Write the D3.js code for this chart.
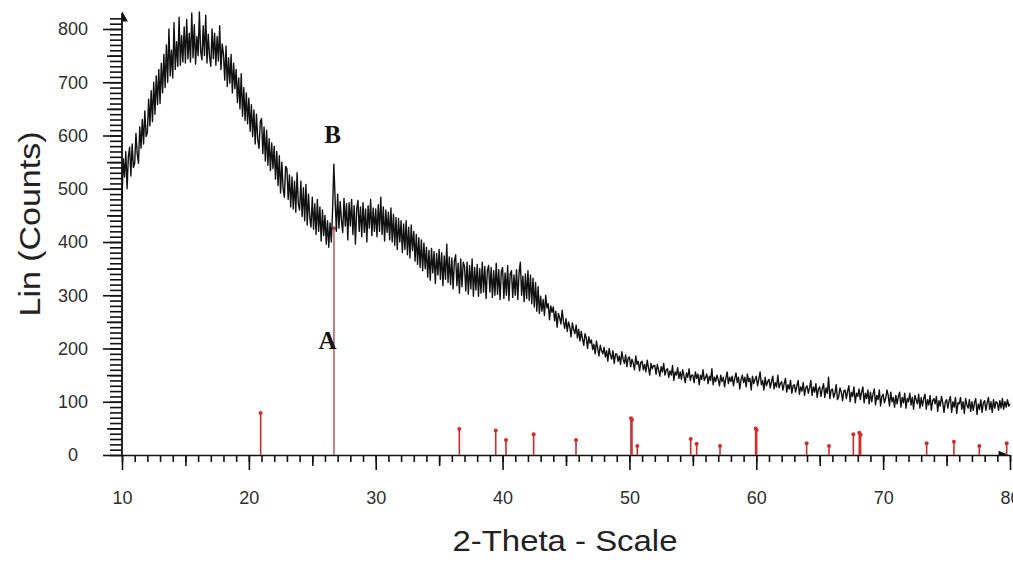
<!DOCTYPE html>
<html>
<head>
<meta charset="utf-8">
<script src="https://cdn.jsdelivr.net/npm/d3@7"></script>
<style>
  body { margin: 0; background: #fff; }
  svg { display: block; }
  .axis text { font-family: "Liberation Sans", Arial, sans-serif; font-size: 18px; fill: #2e2e2e; }
  .axis line, .axis path { stroke: #111; stroke-width: 1.6; }
</style>
</head>
<body>
<div id="viz"></div>
<script>
// scan: start angle and step (degrees 2-theta)
const scanStart = 10;
const scanStep = 0.1;

// measured counts, one row per degree (10.0 .. 10.9, 11.0 .. 11.9, ...)
const counts = [
  480, 556, 522, 570, 500, 560, 578, 524, 584, 540,
  548, 604, 566, 548, 616, 576, 630, 584, 646, 598,
  606, 668, 618, 684, 626, 700, 640, 712, 658, 724,
  660, 736, 680, 752, 690, 770, 700, 800, 712, 760,
  708, 812, 724, 776, 730, 822, 732, 788, 738, 804,
  736, 818, 744, 792, 738, 830, 746, 808, 734, 786,
  750, 832, 758, 742, 806, 750, 826, 736, 790, 748,
  730, 800, 744, 792, 732, 786, 740, 806, 724, 772,
  752, 704, 768, 692, 746, 698, 752, 680, 736, 688,
  724, 662, 708, 650, 716, 636, 690, 628, 680, 622,
  670, 608, 658, 598, 648, 584, 640, 592, 576, 626,
  632, 566, 616, 552, 610, 544, 594, 534, 586, 538,
  580, 518, 570, 506, 562, 492, 550, 500, 484, 542,
  538, 480, 526, 466, 522, 462, 514, 456, 530, 472,
  460, 514, 448, 502, 440, 508, 432, 490, 446, 428,
  484, 424, 472, 414, 480, 420, 466, 402, 460, 412,
  450, 396, 440, 390, 436, 400, 460, 546, 480, 420,
  490, 426, 476, 440, 418, 482, 430, 472, 404, 474,
  430, 480, 414, 468, 396, 462, 478, 420, 466, 410,
  474, 418, 462, 400, 468, 426, 480, 412, 464, 420,
  462, 410, 470, 420, 484, 414, 466, 402, 460, 418,
  456, 404, 464, 400, 452, 394, 446, 386, 444, 400,
  440, 380, 434, 386, 440, 376, 428, 370, 432, 384,
  420, 364, 414, 358, 408, 352, 404, 346, 398, 350,
  390, 334, 384, 328, 388, 342, 382, 322, 378, 338,
  386, 330, 380, 318, 374, 330, 396, 324, 372, 320,
  370, 312, 364, 376, 318, 360, 304, 368, 316, 362,
  354, 308, 362, 302, 356, 312, 368, 298, 352, 310,
  358, 298, 350, 304, 362, 306, 354, 294, 346, 356,
  306, 352, 296, 346, 300, 360, 302, 348, 292, 344,
  352, 294, 342, 300, 356, 290, 340, 346, 296, 338,
  300, 348, 292, 342, 362, 300, 336, 288, 340, 294,
  346, 290, 338, 284, 332, 278, 324, 270, 316, 266,
  298, 270, 292, 262, 300, 276, 284, 254, 280, 268,
  278, 252, 270, 240, 266, 258, 246, 272, 250, 238,
  256, 232, 250, 240, 222, 248, 236, 228, 244, 220,
  236, 214, 232, 218, 206, 228, 220, 200, 222, 210,
  216, 198, 208, 190, 214, 200, 186, 206, 196, 190,
  202, 184, 196, 176, 200, 188, 180, 196, 172, 190,
  190, 176, 186, 170, 194, 180, 172, 188, 166, 182,
  184, 166, 180, 172, 160, 186, 170, 176, 158, 174,
  176, 160, 170, 156, 178, 164, 150, 172, 162, 168,
  168, 152, 170, 160, 148, 166, 156, 172, 150, 160,
  162, 146, 158, 150, 168, 140, 156, 150, 164, 144,
  156, 142, 160, 148, 136, 154, 146, 162, 140, 150,
  150, 136, 156, 144, 152, 132, 150, 142, 160, 140,
  146, 152, 134, 148, 140, 162, 132, 146, 138, 150,
  142, 130, 150, 138, 146, 128, 144, 156, 134, 146,
  138, 148, 130, 144, 154, 136, 146, 124, 142, 150,
  136, 146, 128, 152, 138, 144, 122, 148, 134, 142,
  148, 130, 142, 156, 132, 140, 122, 146, 130, 138,
  142, 126, 138, 148, 124, 136, 128, 150, 126, 134,
  138, 122, 134, 144, 118, 132, 124, 140, 116, 130,
  132, 118, 130, 140, 114, 128, 120, 136, 112, 126,
  130, 116, 126, 140, 112, 128, 118, 134, 108, 124,
  128, 110, 124, 134, 108, 126, 116, 146, 106, 122,
  124, 108, 116, 132, 104, 110, 126, 118, 102, 120,
  122, 106, 120, 130, 100, 118, 110, 128, 98, 116,
  110, 124, 104, 118, 128, 98, 116, 106, 122, 96,
  118, 100, 114, 124, 94, 112, 104, 122, 92, 110,
  114, 98, 106, 122, 112, 92, 118, 100, 108, 90,
  112, 96, 110, 118, 90, 108, 98, 116, 88, 106,
  100, 116, 94, 108, 86, 112, 104, 96, 114, 88,
  108, 92, 106, 114, 86, 104, 94, 112, 84, 102,
  106, 96, 110, 82, 102, 92, 110, 98, 80, 100,
  104, 88, 102, 110, 80, 100, 90, 108, 78, 98,
  96, 108, 86, 100, 78, 106, 94, 88, 104, 82,
  100, 84, 98, 106, 76, 96, 86, 104, 80, 98,
  102, 84, 98, 108, 86, 100, 80, 104, 88, 100,
  98, 84, 102, 88, 106, 86, 100, 90, 104, 92,
  96
];

// reference pattern sticks (red)
const refAngles = [20.93, 26.71, 36.59, 39.46, 40.27, 42.45, 45.79, 50.12, 50.2, 50.62,
  54.83, 55.3, 57.14, 59.95, 60.03, 63.97, 65.73, 67.65, 68.12, 68.22,
  73.43, 75.58, 77.58, 79.74];
const refCounts = [79, 426, 49, 46, 28, 39, 28, 69, 66, 17,
  30, 21, 17, 50, 47, 22, 17, 39, 42, 38,
  22, 25, 17, 22];

const xTicks = [10, 20, 30, 40, 50, 60, 70, 80];
const yTicks = [0, 100, 200, 300, 400, 500, 600, 700, 800];

const labels = [
  { text: "B", angle: 26.6, value: 585 },
  { text: "A", angle: 26.2, value: 200 }
];

const W = 1013, H = 563;

const svg = d3.select("#viz").append("svg")
  .attr("width", W)
  .attr("height", H);

const x = d3.scaleLinear().domain([10, 80]).range([122, 1010]);
const y = d3.scaleLinear().domain([0, 800]).range([455, 29]);

// x axis: minor, medium, major ticks
svg.append("g").attr("class", "axis")
  .attr("transform", `translate(0,${y(0)})`)
  .call(d3.axisBottom(x).tickValues(d3.range(10, 81, 1)).tickSize(7).tickSizeOuter(0).tickFormat(""))
  .call(g => g.select(".domain").remove());
svg.append("g").attr("class", "axis")
  .attr("transform", `translate(0,${y(0)})`)
  .call(d3.axisBottom(x).tickValues(d3.range(15, 80, 10)).tickSize(11).tickSizeOuter(0).tickFormat(""))
  .call(g => g.select(".domain").remove());
svg.append("g").attr("class", "axis")
  .attr("transform", `translate(0,${y(0)})`)
  .call(d3.axisBottom(x).tickValues(xTicks).tickSize(15).tickSizeOuter(0).tickPadding(21).tickFormat(d3.format("d")));

// y axis
svg.append("g").attr("class", "axis")
  .attr("transform", `translate(${x(10)},0)`)
  .call(d3.axisLeft(y).tickValues(d3.range(0, 821, 10)).tickSize(12).tickSizeOuter(0).tickFormat(""))
  .call(g => g.select(".domain").remove());
svg.append("g").attr("class", "axis")
  .attr("transform", `translate(${x(10)},0)`)
  .call(d3.axisLeft(y).tickValues(d3.range(50, 800, 100)).tickSize(15).tickSizeOuter(0).tickFormat(""))
  .call(g => g.select(".domain").remove());
svg.append("g").attr("class", "axis")
  .attr("transform", `translate(${x(10)},0)`)
  .call(d3.axisLeft(y).tickValues(yTicks).tickSize(19).tickSizeOuter(0).tickFormat(d3.format("d")))
  .call(g => g.select(".domain").remove())
  .call(g => g.selectAll("text").attr("x", -49).attr("text-anchor", "middle"));

svg.append("line")
  .attr("x1", x(10)).attr("x2", x(10))
  .attr("y1", y(0)).attr("y2", y(830))
  .attr("stroke", "#111").attr("stroke-width", 1.8);

// arrow heads at axis ends
svg.append("path")
  .attr("d", `M${x(10)},${y(834)} L${x(10) + 6},${y(814)} L${x(10)},${y(814)} Z`)
  .attr("fill", "#111");
svg.append("path")
  .attr("d", `M${x(79.1)},${y(0)} L${x(79.1)},${y(8)} L${x(79.9)},${y(0)} Z`)
  .attr("fill", "#111");

// reference sticks
const sticks = refAngles.map((a, i) => ({ angle: a, value: refCounts[i] }));

svg.append("g").selectAll("line")
  .data(sticks)
  .join("line")
    .attr("x1", d => x(d.angle))
    .attr("x2", d => x(d.angle))
    .attr("y1", y(0))
    .attr("y2", d => y(d.value))
    .attr("stroke", d => d.value > 200 ? "#b9474b" : "#d42a2a")
    .attr("stroke-width", d => d.value > 200 ? 1.4 : 1.6);

svg.append("g").selectAll("circle")
  .data(sticks)
  .join("circle")
    .attr("cx", d => x(d.angle))
    .attr("cy", d => y(d.value))
    .attr("r", 2)
    .attr("fill", d => d.value > 200 ? "#b9474b" : "#d42a2a");

// measured pattern
const pattern = counts.map((c, i) => ({ angle: scanStart + i * scanStep, value: c }));

svg.append("path")
  .datum(pattern)
  .attr("fill", "none")
  .attr("stroke", "#111")
  .attr("stroke-width", 1.4)
  .attr("stroke-linejoin", "round")
  .attr("d", d3.line().x(d => x(d.angle)).y(d => y(d.value)));

// A / B annotations
svg.selectAll("text.mark")
  .data(labels)
  .join("text")
    .attr("class", "mark")
    .attr("x", d => x(d.angle))
    .attr("y", d => y(d.value))
    .attr("text-anchor", "middle")
    .style("font-family", "'Liberation Serif', 'Times New Roman', serif")
    .style("font-weight", "bold")
    .style("font-size", "25px")
    .style("fill", "#111")
    .text(d => d.text);

// axis titles
svg.append("text")
  .attr("x", 565)
  .attr("y", 551)
  .attr("text-anchor", "middle")
  .attr("textLength", 225)
  .attr("lengthAdjust", "spacingAndGlyphs")
  .style("font-family", "'Liberation Sans', Arial, sans-serif")
  .style("font-size", "29px")
  .style("fill", "#222")
  .text("2-Theta - Scale");

svg.append("text")
  .attr("transform", "translate(40,224) rotate(-90)")
  .attr("text-anchor", "middle")
  .attr("textLength", 185)
  .attr("lengthAdjust", "spacingAndGlyphs")
  .style("font-family", "'Liberation Sans', Arial, sans-serif")
  .style("font-size", "29px")
  .style("fill", "#222")
  .text("Lin (Counts)");
</script>
</body>
</html>
